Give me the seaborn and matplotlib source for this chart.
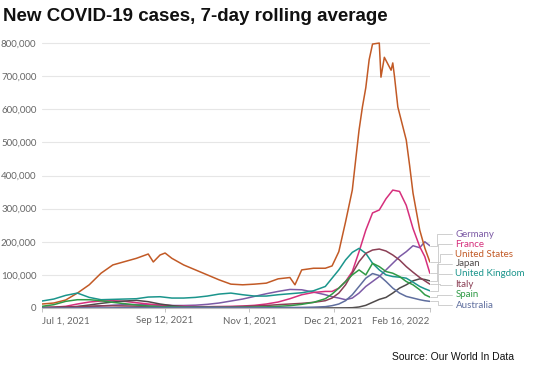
import pandas as pd
import matplotlib
matplotlib.use("Agg")
import matplotlib.pyplot as plt
import matplotlib.transforms as mtransforms
from matplotlib.ticker import FuncFormatter
import seaborn as sns

# ---------------------------------------------------------------
# DATA (thousands of cases, 7-day rolling avg)
# ---------------------------------------------------------------
start = pd.Timestamp("2021-07-01")

# shared day offsets (days since Jul 1, 2021)
grid_days = [0, 7, 14, 21, 28, 35, 42, 49, 56, 63, 70, 77, 84, 91, 98, 105, 112,
             119, 126, 133, 140, 147, 154, 161, 168, 172, 176, 180, 184, 188, 192,
             196, 200, 204, 208, 212, 216, 220, 224, 227, 230]

# the US needs a finer grid around the Omicron peak
us_days = [0, 7, 14, 21, 28, 35, 42, 49, 56, 63, 66, 70, 73, 77, 84, 91, 98, 105,
           112, 119, 126, 133, 140, 147, 150, 154, 161, 168, 172, 176, 180, 184,
           186, 188, 190, 192, 194, 196, 200, 201, 203, 207, 208, 209, 211, 216,
           218, 220, 224, 227, 230]
us_cases = [12, 15, 24, 45, 70, 105, 130, 140, 150, 163, 139, 160, 166, 150, 130,
            115, 100, 85, 72, 70, 72, 75, 88, 92, 70, 115, 120, 120, 127, 170, 260,
            356, 447, 537, 607, 665, 750, 797, 800, 697, 757, 718, 740, 700, 607,
            507, 430, 347, 235, 181, 139]

germany = [0.6, 0.7, 1.2, 2, 3.5, 6, 8.5, 10, 10.5, 10, 8.5, 7.5, 7.5, 8.5, 11, 15,
           21, 27, 35, 43, 50, 56, 55, 48, 40, 34, 30, 25, 30, 45, 65, 80, 95, 115,
           135, 155, 170, 188, 182, 200, 188]
france = [2, 2.5, 5, 12, 18, 21, 22, 20, 16, 12, 9, 7, 5.5, 4.5, 4, 4.5, 5, 6, 8,
          12, 18, 28, 40, 47, 50, 50, 60, 80, 110, 170, 235, 287, 296, 330, 356,
          352, 310, 240, 185, 155, 105]
japan = [1.5, 1.8, 2.5, 4.5, 9, 14, 18, 21, 23, 19, 12, 7, 4, 2, 1, 0.6, 0.4, 0.3,
         0.2, 0.15, 0.1, 0.12, 0.12, 0.15, 0.2, 0.25, 0.3, 0.4, 0.8, 3, 8, 17, 26,
         32, 45, 60, 70, 82, 88, 86, 82]
uk = [21, 27, 38, 45, 32, 25, 26, 27, 28, 33, 34, 30, 30, 32, 36, 42, 45, 40, 36,
      36, 40, 43, 46, 52, 65, 90, 115, 145, 168, 180, 165, 135, 115, 100, 95, 93,
      90, 78, 65, 58, 52]
italy = [1, 1.5, 2.5, 4, 5.5, 6.5, 6.5, 6, 5.5, 5, 4, 3.5, 3, 3, 2.8, 2.8, 3.5, 4.5,
         6, 7.5, 10, 12, 14, 17, 22, 30, 45, 70, 105, 140, 165, 175, 178, 172, 160,
         145, 125, 108, 92, 82, 72]
spain = [5, 10, 20, 25, 25, 22, 17, 13, 9, 6, 4, 3.5, 3, 2.5, 2, 2, 2, 2.5, 3, 3.5,
         5, 7, 11, 17, 28, 42, 60, 80, 100, 115, 100, 135, 125, 110, 105, 95, 80,
         70, 55, 40, 33]
australia = [0.02, 0.03, 0.1, 0.15, 0.2, 0.3, 0.5, 0.8, 1.2, 1.5, 1.7, 1.8, 2, 2,
             2, 2, 1.8, 1.5, 1.3, 1.3, 1.4, 1.5, 1.7, 2.5, 4, 7, 12, 22, 40, 65, 90,
             104, 98, 80, 60, 45, 35, 30, 25, 22, 20]

countries = ["Germany", "France", "United States", "Japan", "United Kingdom",
             "Italy", "Spain", "Australia"]
colors = ["#7d5ba6", "#d62f7c", "#c25a26", "#4f4a4a", "#1b958c", "#8b3f55",
          "#2f9a45", "#5f6e9e"]

tick_dates = ["2021-07-01", "2021-09-12", "2021-11-01", "2021-12-21", "2022-02-16"]
tick_labels = ["Jul 1, 2021", "Sep 12, 2021", "Nov 1, 2021", "Dec 21, 2021",
               "Feb 16, 2022"]

# label placement on the right (y in data units, layout only)
label_y = [223000, 193000, 163000, 133000, 103000, 70000, 40000, 9000]

# ---------------------------------------------------------------
# LONG FORMAT
# ---------------------------------------------------------------
series = {
    "Germany": (grid_days, germany),
    "France": (grid_days, france),
    "United States": (us_days, us_cases),
    "Japan": (grid_days, japan),
    "United Kingdom": (grid_days, uk),
    "Italy": (grid_days, italy),
    "Spain": (grid_days, spain),
    "Australia": (grid_days, australia),
}
rows = []
for name, (d, v) in series.items():
    for day, val in zip(d, v):
        rows.append({"date": start + pd.Timedelta(days=day),
                     "cases": val * 1000, "country": name})
df = pd.DataFrame(rows)

# ---------------------------------------------------------------
# PLOT
# ---------------------------------------------------------------
sns.set_theme(style="white")
plt.rcParams["font.family"] = ["Lato", "DejaVu Sans"]

fig = plt.figure(figsize=(5.35, 3.73), dpi=100)
ax = fig.add_axes([0.0785, 0.1743, 0.725, 0.728])

sns.lineplot(data=df, x="date", y="cases", hue="country", hue_order=countries,
             palette=colors, estimator=None, legend=False, linewidth=1.1,
             ax=ax)

ax.set_xlim(start, pd.Timestamp("2022-02-16"))
ax.set_ylim(0, 820000)
ax.set_yticks(range(0, 800001, 100000))
ax.yaxis.set_major_formatter(FuncFormatter(lambda x, p: f"{int(x):,}"))
ax.set_xticks(pd.to_datetime(tick_dates))
ax.set_xticklabels(tick_labels)
xl = ax.get_xticklabels()
xl[0].set_ha("left")
xl[-1].set_ha("right")

ax.set_xlabel("")
ax.set_ylabel("")
for s in ["top", "right", "left"]:
    ax.spines[s].set_visible(False)
ax.spines["bottom"].set_color("#bbbbbb")
ax.spines["bottom"].set_linewidth(0.8)
ax.yaxis.grid(True, color="#e6e6e6", linewidth=0.8)
ax.set_axisbelow(True)
ax.tick_params(axis="y", length=0, pad=4, labelsize=7, labelcolor="#666666")
ax.tick_params(axis="x", length=3, width=0.6, color="#bbbbbb", pad=3,
               labelsize=7, labelcolor="#666666", bottom=True)

# right-hand labels with gray connectors
trans = mtransforms.blended_transform_factory(ax.transAxes, ax.transData)
for i, (name, col, ly) in enumerate(zip(countries, colors, label_y)):
    yend = series[name][1][-1] * 1000
    xm = 1.018 + 0.004 * (i % 3)
    ax.plot([1.0, xm, xm, 1.058], [yend, yend, ly, ly], color="#c8c8c8",
            linewidth=0.6, transform=trans, clip_on=False)
    ax.text(1.066, ly, name, color=col, fontsize=7, va="center", ha="left",
            transform=trans)

fig.text(0.006, 0.955, "New COVID-19 cases, 7-day rolling average",
         fontsize=13.5, fontweight="bold", family="Liberation Sans",
         color="#111111", ha="left", va="center")
fig.text(0.96, 0.043, "Source: Our World In Data", fontsize=7.5,
         family="Liberation Sans", color="#111111", ha="right", va="center")

fig.savefig("out.png", dpi=100, facecolor="white")
